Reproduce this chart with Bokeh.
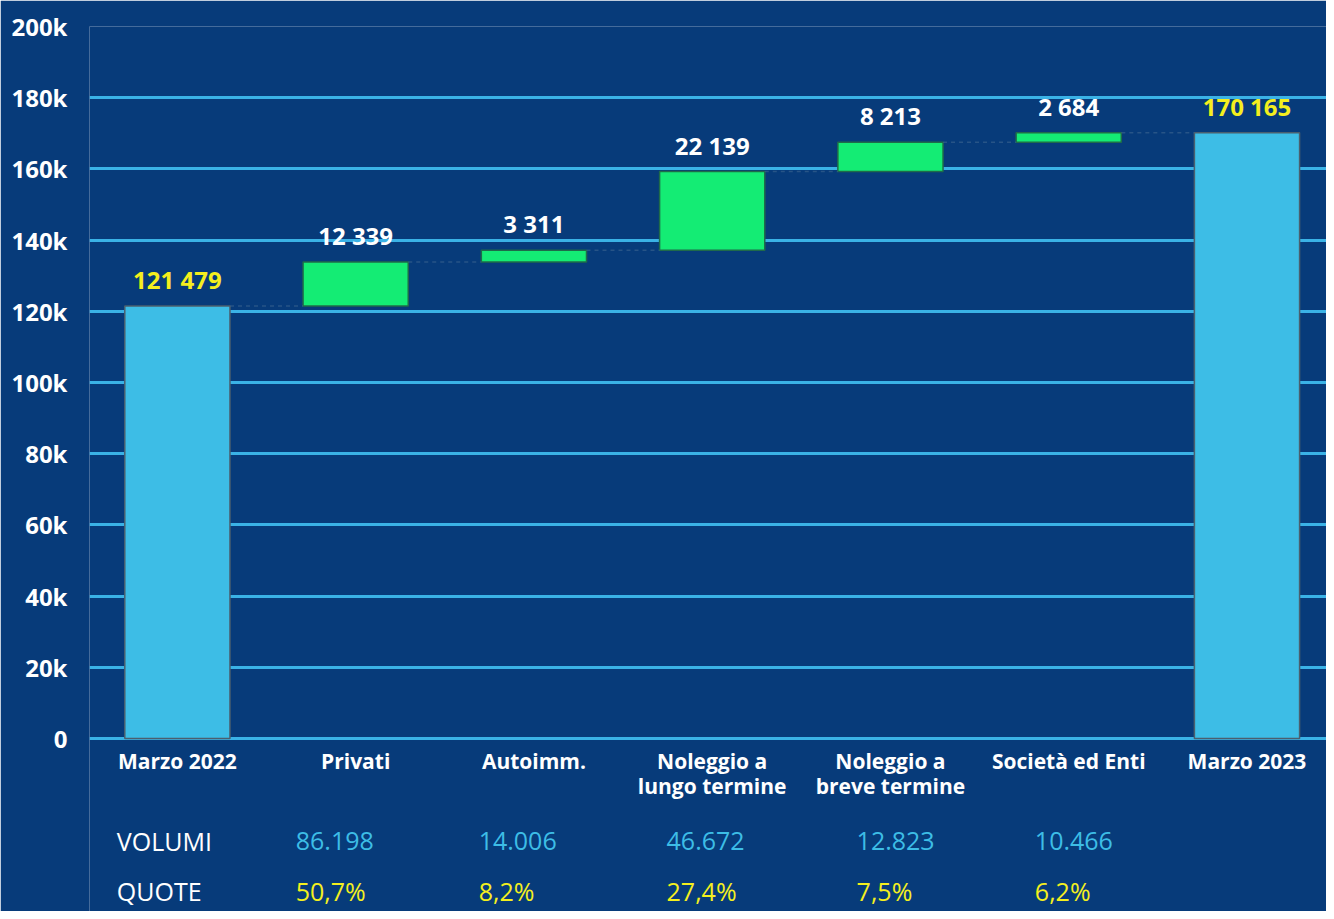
from bokeh.plotting import figure
from bokeh.models import ColumnDataSource, LabelSet, FixedTicker, Range1d
from bokeh.core.properties import value
from bokeh.embed import file_html
from bokeh.resources import INLINE

categories = ["Marzo 2022", "Privati", "Autoimm.", "Noleggio a\nlungo termine",
              "Noleggio a\nbreve termine", "Società ed Enti", "Marzo 2023"]
start_total = 121479
increments = [12339, 3311, 22139, 8213, 2684]
end_total = 170165
value_labels = ["121 479", "12 339", "3 311", "22 139", "8 213", "2 684", "170 165"]
y_ticks = [0, 20000, 40000, 60000, 80000, 100000, 120000, 140000, 160000, 180000, 200000]
y_tick_labels = ["0", "20k", "40k", "60k", "80k", "100k", "120k", "140k", "160k", "180k", "200k"]
row_headers = ["VOLUMI", "QUOTE"]
volumi = ["86.198", "14.006", "46.672", "12.823", "10.466"]
quote = ["50,7%", "8,2%", "27,4%", "7,5%", "6,2%"]

BG = "#073b7a"
BLUE = "#3dbde6"
GREEN = "#14ec74"
YELLOW = "#f4ef1e"
FONT = "Open Sans"
W = 0.59

# waterfall geometry from data
bottoms, tops = [0], [start_total]
level = start_total
for inc in increments:
    bottoms.append(level)
    level += inc
    tops.append(level)
bottoms.append(0)
tops.append(end_total)
xs = list(range(len(categories)))
colors = [BLUE] + [GREEN] * len(increments) + [BLUE]
lcolors = ["#4b5f6e"] + ["#1f6b4a"] * len(increments) + ["#4b5f6e"]
lab_colors = [YELLOW] + ["white"] * len(increments) + [YELLOW]

# layout: chart area 712 px for 0..200k, table area of 173 px below zero
PX_PER_UNIT = 712 / 200000
Y_LOW = -173 / PX_PER_UNIT

p = figure(width=1326, height=911, output_backend="svg", toolbar_location=None,
           x_range=Range1d(-0.493, 6.446), y_range=Range1d(Y_LOW, 200000),
           min_border_left=89, min_border_right=0, min_border_top=26, min_border_bottom=0)
p.background_fill_color = BG
p.border_fill_color = BG
p.outline_line_color = None

p.xgrid.grid_line_color = None
p.ygrid.grid_line_color = "#3ab2e6"
p.ygrid.grid_line_width = 3
p.ygrid.ticker = FixedTicker(ticks=y_ticks)

p.yaxis.ticker = FixedTicker(ticks=y_ticks)
p.yaxis.major_label_overrides = {t: l for t, l in zip(y_ticks, y_tick_labels)}
p.yaxis.axis_line_color = None
p.yaxis.major_tick_line_color = None
p.yaxis.minor_tick_line_color = None
p.yaxis.major_label_text_color = "white"
p.yaxis.major_label_text_font = FONT
p.yaxis.major_label_text_font_style = "bold"
p.yaxis.major_label_text_font_size = "24px"
p.yaxis.major_label_standoff = 16

p.xaxis.ticker = FixedTicker(ticks=xs)
p.xaxis.fixed_location = 0
p.xaxis.major_label_overrides = {x: c for x, c in zip(xs, categories)}
p.xaxis.axis_line_color = None
p.xaxis.major_tick_line_color = None
p.xaxis.minor_tick_line_color = None
p.xaxis.major_label_text_color = "white"
p.xaxis.major_label_text_font = FONT
p.xaxis.major_label_text_font_style = "bold"
p.xaxis.major_label_text_font_size = "21px"
p.xaxis.major_label_text_line_height = 0.9
p.xaxis.major_label_standoff = 2

src = ColumnDataSource(dict(x=xs, bottom=bottoms, top=tops, color=colors, lc=lcolors,
                            label=value_labels, lab_color=lab_colors))
p.vbar(x="x", bottom="bottom", top="top", width=W, fill_color="color",
       line_color="lc", line_width=1.5, source=src)

# connector lines
cx0 = [x + W / 2 for x in xs[:-1]]
cx1 = [x + 1 - W / 2 for x in xs[:-1]]
cy = tops[:-1]
p.segment(x0=cx0, y0=cy, x1=cx1, y1=cy, line_color="#3d6590", line_width=1.5,
          line_dash="4 4", line_alpha=0.6)

p.add_layout(LabelSet(x="x", y="top", text="label", source=src, text_color="lab_color",
                      text_font=value(FONT), text_font_style="bold", text_font_size="24px",
                      text_align="center", text_baseline="bottom", y_offset=10))

# table below the chart
row_y = [-102.6 / PX_PER_UNIT, -152.0 / PX_PER_UNIT]
col_x = [0.664, 1.69, 2.744, 3.81, 4.81]
head_x = -0.34
hsrc = ColumnDataSource(dict(x=[head_x] * len(row_headers), y=row_y, t=row_headers))
tsrc = ColumnDataSource(dict(x=col_x, y1=[row_y[0]] * len(volumi), y2=[row_y[1]] * len(quote),
                             v=volumi, q=quote))
common = dict(text_font=value(FONT), text_font_size="25px", text_align="left",
              text_baseline="middle")
p.text(x="x", y="y", text="t", source=hsrc, text_color="white", **common)
p.text(x="x", y="y1", text="v", source=tsrc, text_color=BLUE, **common)
p.text(x="x", y="y2", text="q", source=tsrc, text_color=YELLOW, **common)

open("out.html", "w").write(file_html(p, INLINE))
